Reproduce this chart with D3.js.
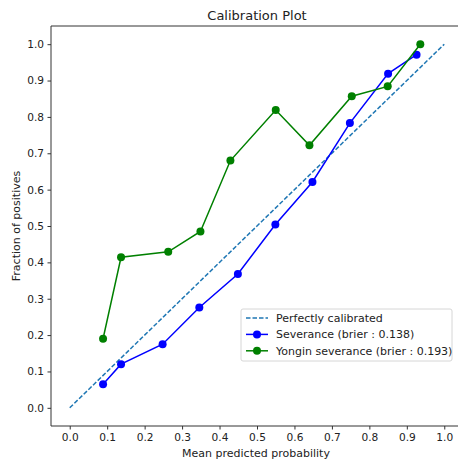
<!DOCTYPE html>
<html lang="en">
<head>
<meta charset="UTF-8">
<script src="https://d3js.org/d3.v7.min.js"></script>
<title>Calibration Plot</title>
<style>
  body { margin: 0; background: #fff; }
  svg text { font-family: "DejaVu Sans", sans-serif; fill: #222; }
</style>
</head>
<body>
<svg id="chart" width="458" height="461"></svg>
<script>
// reference diagonal
const perfectX = [0, 1];
const perfectY = [0, 1];

// Severance
const sevX = [0.089, 0.137, 0.248, 0.346, 0.449, 0.549, 0.648, 0.748, 0.850, 0.926];
const sevY = [0.065, 0.120, 0.175, 0.276, 0.368, 0.504, 0.621, 0.783, 0.919, 0.971];

// Yongin severance
const yonX = [0.089, 0.137, 0.263, 0.349, 0.429, 0.550, 0.640, 0.753, 0.849, 0.936];
const yonY = [0.190, 0.414, 0.429, 0.485, 0.680, 0.819, 0.722, 0.857, 0.884, 1.000];

const ticks = [0, 0.1, 0.2, 0.3, 0.4, 0.5, 0.6, 0.7, 0.8, 0.9, 1.0];
const legendLabels = ["Perfectly calibrated", "Severance (brier : 0.138)", "Yongin severance (brier : 0.193)"];

const svg = d3.select("#chart");
const mLeft = 51, mTop = 26, mRight = 463, mBottom = 426;

const x = d3.scaleLinear().domain([-0.05, 1.05]).range([mLeft, mRight]);
const y = d3.scaleLinear().domain([-0.05, 1.05]).range([mBottom, mTop]);

// spines
const ink = "#333";
svg.append("line").attr("x1", mLeft).attr("x2", mLeft).attr("y1", mTop).attr("y2", mBottom)
  .attr("stroke", ink).attr("stroke-width", 1);
svg.append("line").attr("x1", mLeft).attr("x2", mRight).attr("y1", mBottom).attr("y2", mBottom)
  .attr("stroke", ink).attr("stroke-width", 1);
svg.append("line").attr("x1", mLeft).attr("x2", mRight).attr("y1", mTop).attr("y2", mTop)
  .attr("stroke", ink).attr("stroke-width", 1);

// axes
const xAxis = svg.append("g").attr("transform", `translate(0,${mBottom})`)
  .call(d3.axisBottom(x).tickValues(ticks).tickFormat(d3.format(".1f")).tickSize(3.5).tickPadding(3.5));
const yAxis = svg.append("g").attr("transform", `translate(${mLeft},0)`)
  .call(d3.axisLeft(y).tickValues(ticks).tickFormat(d3.format(".1f")).tickSize(3.5).tickPadding(3.5));
[xAxis, yAxis].forEach(a => {
  a.select(".domain").remove();
  a.selectAll(".tick line").attr("stroke", ink);
  a.selectAll(".tick text").style("font-size", "10.6px").attr("fill", "#222");
});

// title and labels
svg.append("text").attr("x", 257).attr("y", 19.5)
  .attr("text-anchor", "middle").style("font-size", "13px").text("Calibration Plot");
svg.append("text").attr("x", 256).attr("y", 457)
  .attr("text-anchor", "middle").style("font-size", "11px").text("Mean predicted probability");
svg.append("text").attr("transform", `translate(20,${(mTop + mBottom) / 2}) rotate(-90)`)
  .attr("text-anchor", "middle").style("font-size", "11px").text("Fraction of positives");

const line = d3.line().x(d => x(d[0])).y(d => y(d[1]));

// diagonal
svg.append("path").datum(d3.zip(perfectX, perfectY)).attr("d", line)
  .attr("fill", "none").attr("stroke", "#1f77b4").attr("stroke-width", 1.5)
  .attr("stroke-dasharray", "4.5,2");

function series(xs, ys, color) {
  const pts = d3.zip(xs, ys);
  svg.append("path").datum(pts).attr("d", line)
    .attr("fill", "none").attr("stroke", color).attr("stroke-width", 1.5);
  svg.append("g").selectAll("circle").data(pts).join("circle")
    .attr("cx", d => x(d[0])).attr("cy", d => y(d[1])).attr("r", 4)
    .attr("fill", color);
}
series(sevX, sevY, "blue");
series(yonX, yonY, "green");

// legend
const lg = svg.append("g").attr("transform", "translate(241,309)");
lg.append("rect").attr("width", 211).attr("height", 52).attr("rx", 2)
  .attr("fill", "#fff").attr("fill-opacity", 0.8).attr("stroke", "#d6d6d6");
const legendColors = ["#1f77b4", "blue", "green"];
legendLabels.forEach((t, i) => {
  const cy = 9 + i * 16.4;
  const row = lg.append("g").attr("transform", `translate(0,${cy})`);
  row.append("line").attr("x1", 5).attr("x2", 27).attr("y1", 0).attr("y2", 0)
    .attr("stroke", legendColors[i]).attr("stroke-width", 1.5)
    .attr("stroke-dasharray", i === 0 ? "4.5,2" : null);
  if (i > 0) row.append("circle").attr("cx", 16).attr("cy", 0).attr("r", 4).attr("fill", legendColors[i]);
  row.append("text").attr("x", 35).attr("y", 4).style("font-size", "11px").text(t);
});
</script>
</body>
</html>
